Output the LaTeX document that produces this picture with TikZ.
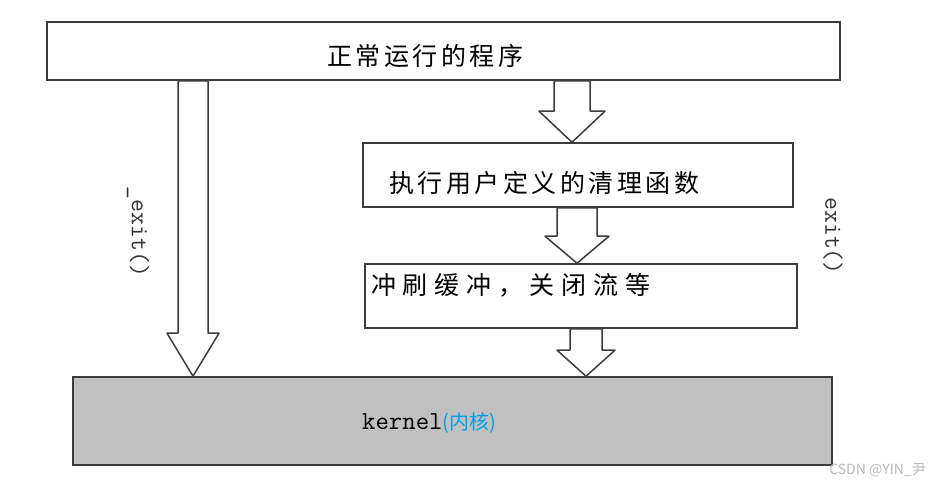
\documentclass[tikz,border=0pt]{standalone}
\usepackage{fontspec}
\usepackage{xcolor}
\usepackage{tikz}
\usetikzlibrary{calc}
\newfontfamily\cjk{Noto Sans CJK SC}
\newfontfamily\cjkwide[LetterSpace=14]{Noto Sans CJK SC}
\newfontfamily\cjkwider[LetterSpace=27]{Noto Sans CJK SC}
\definecolor{edgegray}{RGB}{60, 60, 60}
\definecolor{kernelgray}{RGB}{192, 192, 192}
\definecolor{noteblue}{RGB}{0, 160, 230}
\definecolor{markgray}{RGB}{185, 185, 185}
\tikzset{
 procbox/.style={
 rectangle,
 draw=edgegray,
 fill=white,
 line width=1.6pt,
 minimum height=58pt,
 inner sep=0pt
 },
 kernelbox/.style={
 procbox,
 fill=kernelgray,
 minimum height=88pt
 },
 boxtext/.style={
 font=\cjkwide\fontsize{25}{28}\selectfont,
 inner sep=0pt
 },
 calllabel/.style={
 font=\ttfamily\fontsize{25}{27}\selectfont,
 text=black!80,
 rotate=-90,
 inner sep=0pt
 },
 hollowarrow/.style={draw=edgegray, fill=white, line width=1.5pt, line join=round}
}
% #1 from, #2 to, #3 x, #4 shaft half width, #5 head half width, #6 head length
\newcommand\blockarrow[6]{%
 \draw[hollowarrow] let \p1=(#1.south), \p2=(#2.north) in
 (#3pt-#4pt,\y1) -- (#3pt-#4pt,\y2+#6pt) -- (#3pt-#5pt,\y2+#6pt) -- (#3pt,\y2)
 -- (#3pt+#5pt,\y2+#6pt) -- (#3pt+#4pt,\y2+#6pt) -- (#3pt+#4pt,\y1) -- cycle;
}

\begin{document}
\begin{tikzpicture}[x=1pt, y=-1pt]
 \useasboundingbox (0,0) rectangle (931,487);
 % boxes
 \node[procbox, minimum width=793pt] (prog) at (443.5,51) {};
 \node[boxtext, anchor=west] (progtxt) at (327,56) {正常运行的程序};
 \node[procbox, minimum width=430pt, minimum height=64pt] (handler) at (578,175) {};
 \node[boxtext, anchor=west] (handlertxt) at (389,183) {执行用户定义的清理函数};
 \node[procbox, minimum width=432pt, minimum height=64pt] (flush) at (581,296) {};
 \node[boxtext, font=\cjkwider\fontsize{25}{28}\selectfont, anchor=west] (flushtxt) at (371,285) {冲刷缓冲，关闭流等};
 \node[kernelbox, minimum width=759pt] (kernel) at (452.5,421) {};
 \node[inner sep=0pt, anchor=west] (kerneltxt) at (362,423)
 {\ttfamily\fontsize{26}{28}\selectfont kernel{\cjk\fontsize{20}{22}\selectfont\color{noteblue}(内核)}};
 % arrows
 \blockarrow{prog}{kernel}{193}{15}{26}{43}
 \blockarrow{prog}{handler}{572}{18}{33}{31}
 \blockarrow{handler}{flush}{577}{20}{32}{27}
 \blockarrow{flush}{kernel}{586}{16}{29}{26}
 % labels
 \node[calllabel] (fastexit) at (138,232) {\_exit()};
 \node[calllabel] (normexit) at (833,236) {exit()};
 \node[font=\cjk\fontsize{14}{16}\selectfont, text=markgray, anchor=east, inner sep=0pt] (mark) at (926,470) {CSDN @YIN\_尹};
\end{tikzpicture}
\end{document}
